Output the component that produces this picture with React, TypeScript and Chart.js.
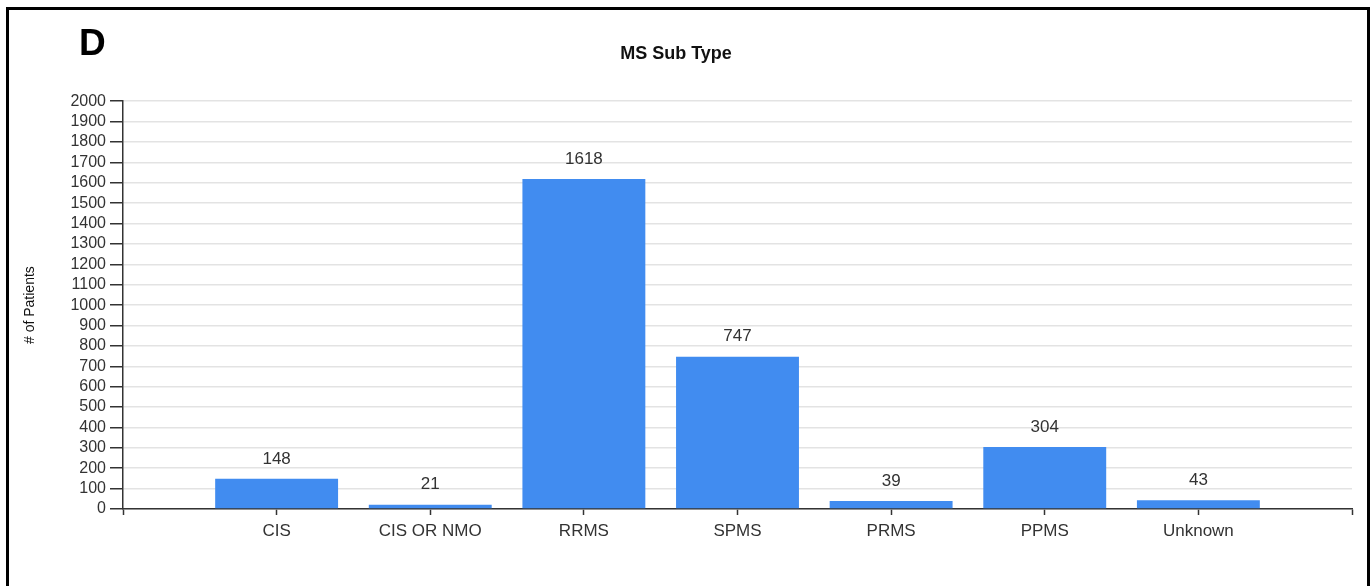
import React, { useEffect, useRef } from "react";
import { Chart, registerables } from "chart.js";

Chart.register(...registerables);

const categories = ["CIS", "CIS OR NMO", "RRMS", "SPMS", "PRMS", "PPMS", "Unknown"];
const patientCounts = [148, 21, 1618, 747, 39, 304, 43];
const chartTitle = "MS Sub Type";
const panelLetter = "D";
const yAxisTitle = "# of Patients";
const yMin = 0;
const yMax = 2000;
const yStep = 100;

const FONT = '"Liberation Sans", Arial, Helvetica, sans-serif';

export default function App() {
  const canvasRef = useRef<HTMLCanvasElement | null>(null);

  useEffect(() => {
    const canvas = canvasRef.current;
    if (!canvas) return;
    Chart.defaults.font.family = FONT;

    // empty slots at both ends so that bars sit on the inner positions
    const labels = ["", ...categories, ""];
    const values: (number | null)[] = [null, ...patientCounts, null];

    const decorPlugin = {
      id: "decor",
      afterDatasetsDraw(chart: any) {
        const ctx = chart.ctx;
        const meta = chart.getDatasetMeta(0);
        ctx.save();
        ctx.font = `17px ${FONT}`;
        ctx.fillStyle = "#333";
        ctx.textAlign = "center";
        ctx.textBaseline = "middle";
        meta.data.forEach((bar: any, i: number) => {
          const v = values[i];
          if (v === null || v === undefined) return;
          ctx.fillText(String(v), bar.x, bar.y - 20);
        });
        ctx.restore();
      },
      afterDraw(chart: any) {
        const ctx = chart.ctx;
        ctx.save();
        ctx.font = `bold 37px ${FONT}`;
        ctx.fillStyle = "#000";
        ctx.textAlign = "left";
        ctx.textBaseline = "alphabetic";
        ctx.fillText(panelLetter, 79, 55);
        ctx.strokeStyle = "#000";
        ctx.lineWidth = 3;
        ctx.beginPath();
        ctx.moveTo(7.5, 600);
        ctx.lineTo(7.5, 8.5);
        ctx.lineTo(1368.5, 8.5);
        ctx.lineTo(1368.5, 600);
        ctx.stroke();
        ctx.restore();
      },
    };

    const chart = new Chart(canvas, {
      type: "bar",
      data: {
        labels,
        datasets: [
          {
            data: values,
            backgroundColor: "#418CF0",
            borderWidth: 0,
            categoryPercentage: 1,
            barPercentage: 0.8,
          },
        ],
      },
      options: {
        animation: false,
        responsive: false,
        devicePixelRatio: 1,
        layout: { padding: { top: 0, left: 0, right: 20, bottom: 0 } },
        plugins: {
          legend: { display: false },
          tooltip: { enabled: false },
          title: {
            display: true,
            text: chartTitle,
            color: "#111",
            font: { size: 18, weight: "bold", family: FONT },
            padding: { top: 42.8, bottom: 36.8 },
          },
        },
        scales: {
          x: {
            type: "category",
            offset: false,
            afterFit(axis: any) {
              axis.height = 77;
            },
            grid: {
              offset: false,
              drawOnChartArea: false,
              drawTicks: true,
              tickLength: 6,
              tickColor: "#333",
              tickWidth: 1.5,
            },
            border: { display: true, color: "#333", width: 1.5 },
            ticks: {
              autoSkip: false,
              maxRotation: 0,
              minRotation: 0,
              padding: 6,
              color: "#333",
              font: { size: 17, family: FONT },
            },
          },
          y: {
            type: "linear",
            min: yMin,
            max: yMax,
            afterFit(axis: any) {
              axis.width = 123;
            },
            grid: {
              color: "#e3e3e3",
              lineWidth: 1.5,
              drawTicks: true,
              tickLength: 13,
              tickColor: "#333",
              tickWidth: 1.5,
            },
            border: { display: true, color: "#333", width: 1.5 },
            ticks: {
              stepSize: yStep,
              autoSkip: false,
              padding: 4,
              color: "#333",
              font: { size: 16, family: FONT },
              callback: (v: any) => String(v),
            },
            title: {
              display: true,
              text: yAxisTitle,
              color: "#111",
              font: { size: 14, family: FONT },
              padding: { top: 21.6, bottom: 0 },
            },
          },
        },
      },
      plugins: [decorPlugin],
    } as any);

    return () => {
      chart.destroy();
    };
  }, []);

  return (
    <div
      style={{
        position: "fixed",
        left: 0,
        top: 0,
        width: 1372,
        height: 586,
        background: "#fff",
      }}
    >
      <canvas ref={canvasRef} width={1372} height={586} style={{ display: "block" }} />
    </div>
  );
}
